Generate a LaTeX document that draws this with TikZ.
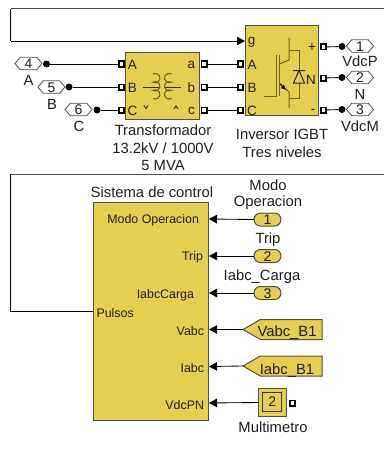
\documentclass[tikz,border=0pt]{standalone}
\usepackage{fontspec}
\setmainfont{Liberation Sans}
\usetikzlibrary{shapes.symbols,shapes.misc,arrows.meta,positioning}
\definecolor{blockfill}{HTML}{E6CF50}
\definecolor{iconline}{HTML}{6E5E18}
\definecolor{edgegrey}{HTML}{505050}
\newcommand{\lblfont}{\fontsize{14.8}{17}\selectfont}
\newcommand{\prtfont}{\fontsize{12.4}{14}\selectfont}
\newcommand{\iofont}{\fontsize{14}{16}\selectfont}
\newcommand{\pinfont}{\fontsize{13.5}{15}\selectfont}
\tikzset{
  x=1pt,y=-1pt,
  every node/.style={inner sep=0pt,outer sep=0pt,text=black!88},
  block/.style={draw=edgegrey,fill=blockfill,line width=1pt,anchor=north west},
  sq/.style={draw=black,fill=white,line width=1.6pt,minimum size=5.4pt,rectangle},
  jdot/.style={circle,fill=black,minimum size=7pt},
  wire/.style={draw=black,line width=0.85pt},
  awire/.style={wire,-{Triangle[length=8pt,width=8.5pt]}},
  hextag/.style={signal,signal to=east and west,signal pointer angle=100,draw=edgegrey,fill=white,line width=0.8pt,minimum width=27pt,minimum height=12.5pt},
  pill/.style={rounded rectangle,draw=edgegrey,fill=blockfill,line width=1pt,minimum width=27pt,minimum height=13pt},
  fromtag/.style={signal,signal to=west,signal pointer angle=60,draw=edgegrey,fill=blockfill,line width=1pt,minimum width=79pt,minimum height=20pt,anchor=east},
  lbl/.style={font=\lblfont},
  prt/.style={font=\prtfont},
  pin/.style={font=\pinfont},
  iot/.style={font=\iofont},
  iconl/.style={draw=iconline,line width=1pt},
}
\begin{document}
\begin{tikzpicture}
\useasboundingbox (0,0) rectangle (384,452);
\fill[white] (0,0) rectangle (384,452);

% Blocks
\node[block,minimum width=73.5pt,minimum height=66pt] (trafo) at (125.5,53) {};
\node[block,minimum width=73.5pt,minimum height=89pt] (inv) at (245,26) {};
\node[block,minimum width=115pt,minimum height=218pt] (ctrl) at (93,202) {};

% Block captions
\node[lbl] (t1) at (163,130) {Transformador};
\node[lbl] (t2) at (163,148) {13.2kV / 1000V};
\node[lbl] (t3) at (163,165.5) {5 MVA};
\node[lbl] (i1) at (282,134) {Inversor IGBT};
\node[lbl] (i2) at (282,152) {Tres niveles};
\node[lbl] (c1) at (152,192) {Sistema de control};

% Transformer port labels
\node[pin] (lA) at (132.5,65) {A};
\node[pin] (lB) at (132.5,88) {B};
\node[pin] (lC) at (132.5,111) {C};
\node[pin] (la) at (191.5,65) {a};
\node[pin] (lb) at (191.5,88) {b};
\node[pin] (lc) at (191.5,111) {c};

% Transformer icon
\draw[draw=black!85,line width=0.9pt] (143,87) -- (159,87) (165,87) -- (181,87);
\draw[iconl] (153,74) arc[start angle=-120,end angle=120,radius=4.7]
             arc[start angle=-120,end angle=120,radius=4.7]
             arc[start angle=-120,end angle=120,radius=4.7];
\draw[iconl] (171.5,74) arc[start angle=-60,end angle=-300,radius=4.7]
             arc[start angle=-60,end angle=-300,radius=4.7]
             arc[start angle=-60,end angle=-300,radius=4.7];
\draw[draw=black!85,line width=0.9pt] (143.8,105.5) -- (146,108.5) -- (148.2,105.5);
\draw[draw=black!85,line width=0.9pt] (174,109) -- (176,106) -- (178,109);

% Inverter port labels
\node[pin] (ig) at (251.5,42.5) {g};
\node[pin] (iA) at (252,65) {A};
\node[pin] (iB) at (252,88) {B};
\node[pin] (iC) at (252,110.5) {C};
\node[pin] (ip) at (312,47.5) {+};
\node[pin] (iN) at (311,79.5) {N};
\node[pin] (im) at (313,111.5) {-};

% IGBT icon
\draw[iconl] (264,96) -- (276.7,96) -- (276.7,55);
\draw[iconl] (279.5,55) -- (279.5,96);
\draw[iconl] (279.5,64) -- (289,60) -- (289,38);
\draw[iconl] (279.5,83) -- (289,92) -- (289,108);
\draw[draw=black,line width=1pt,-{Latex[length=5pt,width=5pt]}] (280,84) -- (286,90);
\draw[iconl] (289,50.5) -- (299,50.5) -- (299,70);
\draw[iconl] (299,83) -- (299,98.5) -- (289,98.5);
\draw[draw=black!85,line width=1pt] (293,70.5) -- (305,70.5) (299,70.5) -- (293.5,83) -- (304.5,83) -- cycle;

% Control block port labels
\node[prt,anchor=east] (mo) at (199,220.5) {Modo Operacion};
\node[prt,anchor=east] (tr) at (203,257.5) {Trip};
\node[prt,anchor=east] (ic) at (194,295) {IabcCarga};
\node[prt,anchor=west] (pu) at (96.5,313) {Pulsos};
\node[prt,anchor=east] (vb) at (204,331.5) {Vabc};
\node[prt,anchor=east] (ib) at (204,368) {Iabc};
\node[prt,anchor=east] (vd) at (204,405) {VdcPN};

% Port squares on blocks
\node[sq] (pA) at (121.5,64) {};
\node[sq] (pB) at (121.5,87) {};
\node[sq] (pC) at (121.5,110) {};
\node[sq] (pa) at (204,64) {};
\node[sq] (pb) at (204,87) {};
\node[sq] (pc) at (204,110) {};
\node[sq] (qA) at (240.5,64) {};
\node[sq] (qB) at (240.5,87) {};
\node[sq] (qC) at (240.5,110) {};
\node[sq] (qp) at (323.5,47) {};
\node[sq] (qn) at (323.5,78) {};
\node[sq] (qm) at (323.5,110) {};

% Input tags on the left
\node[hextag] (h4) at (28.5,63.5) {};
\node[iot] (h4t) at (28.5,64) {4};
\node[jdot] (d4) at (46.5,64) {};
\node[hextag] (h5) at (51.5,87) {};
\node[iot] (h5t) at (51.5,88) {5};
\node[jdot] (d5) at (69,87) {};
\node[hextag] (h6) at (78.5,109.5) {};
\node[iot] (h6t) at (78.5,110) {6};
\node[jdot] (d6) at (97,110) {};
\node[lbl] (nA) at (28.5,80) {A};
\node[lbl] (nB) at (52,104) {B};
\node[lbl] (nC) at (79,126) {C};

% Output tags on the right
\node[jdot] (d1) at (342,46.5) {};
\node[hextag] (h1) at (360,46) {};
\node[iot] (h1t) at (360,47) {1};
\node[jdot] (d2) at (342,77.5) {};
\node[hextag] (h2) at (360,77.5) {};
\node[iot] (h2t) at (360,78) {2};
\node[jdot] (d3) at (342,109.5) {};
\node[hextag] (h3) at (360,109.5) {};
\node[iot] (h3t) at (360,110) {3};
\node[lbl] (nP) at (360,61.5) {VdcP};
\node[lbl] (nN) at (360,94) {N};
\node[lbl] (nM) at (360,126.5) {VdcM};

% Inputs of the control block
\node[pill] (s1) at (267.5,219.5) {};
\node[iot] (s1t) at (267.5,220) {1};
\node[pill] (s2) at (267.5,256) {};
\node[iot] (s2t) at (267.5,257) {2};
\node[pill] (s3) at (267.5,293) {};
\node[iot] (s3t) at (267.5,294) {3};
\node[lbl] (n1a) at (268,185) {Modo};
\node[lbl] (n1b) at (268,203) {Operacion};
\node[lbl] (n2) at (268,239.5) {Trip};
\node[lbl] (n3) at (262,276.5) {Iabc\_Carga};

\node[fromtag] (f1) at (322,329.5) {};
\node[lbl] (f1t) at (287,333) {Vabc\_B1};
\node[fromtag] (f2) at (322,366) {};
\node[lbl] (f2t) at (287,370.5) {Iabc\_B1};

\node[draw=edgegrey,fill=blockfill,line width=1pt,minimum width=28pt,minimum height=27.5pt] (mm) at (272.7,402.5) {};
\node[draw=black!80,line width=0.9pt,minimum width=19pt,minimum height=19pt,font=\iofont] (mmi) at (272.2,402) {2};
\node[sq] (mp) at (292.5,403) {};
\node[lbl] (mt) at (273,427) {Multimetro};

% Pulse loop
\coordinate (rt) at (384,9);
\coordinate (lt) at (10.5,9);
\coordinate (lb1) at (10.5,41);
\coordinate (gt) at (245,41);
\coordinate (rm) at (384,174);
\coordinate (lm) at (10.5,174);
\coordinate (lp) at (10.5,311);
\coordinate (cp) at (93,311);
\draw[wire,draw=black!70,line width=1pt] (rt) -- (lt);
\draw[wire] (lt) -- (lb1);
\draw[awire] (lb1) -- (gt);
\draw[wire,draw=black!70,line width=1pt] (rm) -- (lm);
\draw[wire] (lm) -- (lp) -- (cp);

% Connectors
\draw[wire] (d4) -- (pA);
\draw[wire] (d5) -- (pB);
\draw[wire] (d6) -- (pC);
\draw[wire] (pa) -- (qA);
\draw[wire] (pb) -- (qB);
\draw[wire] (pc) -- (qC);
\draw[wire] (qp) -- (d1);
\draw[wire] (qn) -- (d2);
\draw[wire] (qm) -- (d3);
\coordinate (a1) at (209,219);
\coordinate (a2) at (209,256);
\coordinate (a3) at (209,293);
\coordinate (a4) at (209,329.5);
\coordinate (a5) at (209,366.5);
\coordinate (a6) at (209,403);
\draw[awire] (s1.west) -- (a1);
\draw[awire] (s2.west) -- (a2);
\draw[awire] (s3.west) -- (a3);
\draw[awire] (f1.west) -- (a4);
\draw[awire] (f2.west) -- (a5);
\draw[awire] (mm.west) -- (a6);
\end{tikzpicture}
\end{document}
